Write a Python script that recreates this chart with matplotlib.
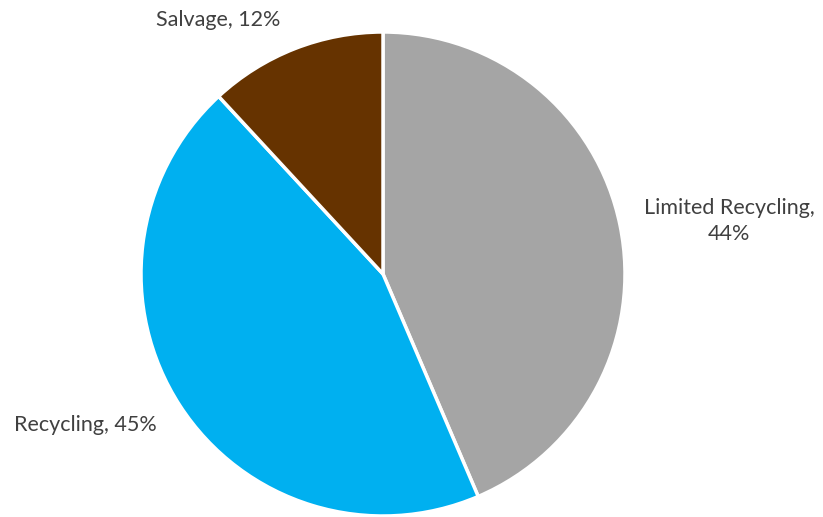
import matplotlib.pyplot as plt

# disposition shares
categories = ["Limited Recycling", "Recycling", "Salvage"]
shares = [44, 45, 12]
colors = ["#a5a5a5", "#00b0f0", "#663300"]

# label anchor points in pixel space (x, y from top)
label_pos = [(729, 221), (85, 425), (218, 20)]
label_text = ["Limited Recycling,\n44%", "Recycling, 45%", "Salvage, 12%"]

W, H = 823, 517
fig = plt.figure(figsize=(W / 100, H / 100), dpi=100)
ax = fig.add_axes([0, 0, 1, 1])
ax.set_aspect("equal")
ax.axis("off")

ax.pie(shares, colors=colors, startangle=90, counterclock=False,
       center=(383, H - 274), radius=242,
       wedgeprops=dict(edgecolor="white", linewidth=2.5))
ax.set_xlim(0, W)
ax.set_ylim(0, H)

for (x, y), t in zip(label_pos, label_text):
    ax.text(x, H - y, t, ha="center", va="center", fontsize=15.5,
            family="Lato", color="#404040", linespacing=1.35)

plt.savefig("out.png", dpi=100)
